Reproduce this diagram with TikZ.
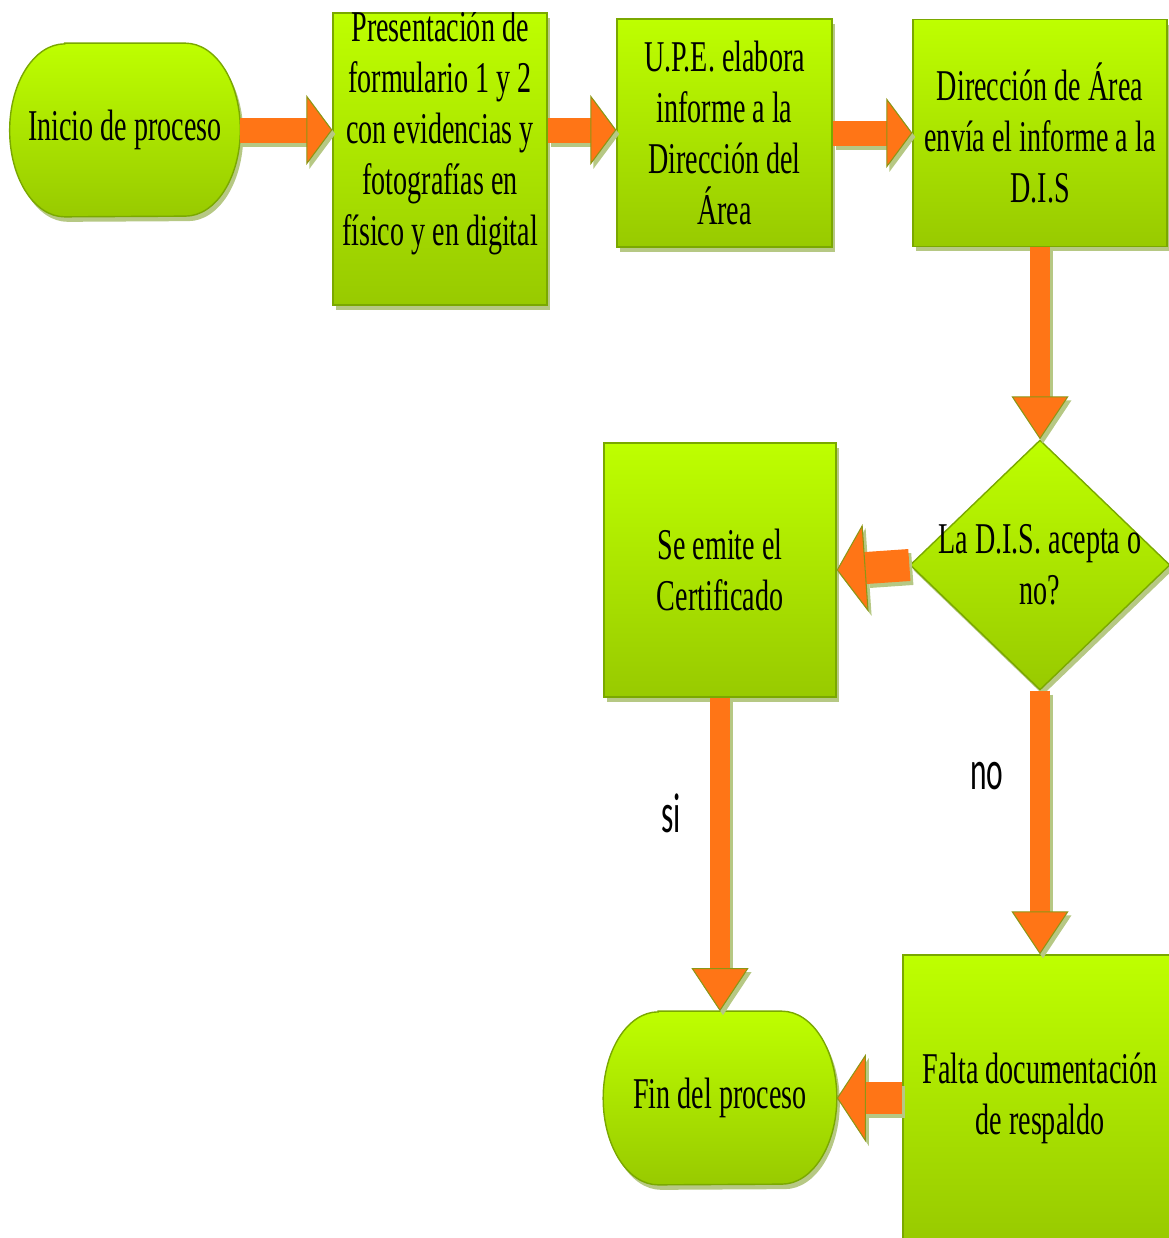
\documentclass[tikz,border=0pt]{standalone}
\usepackage{fontspec}
\setmainfont{Liberation Serif}[FakeStretch=0.64]
\newfontfamily\labelfont{Carlito}[FakeStretch=0.56]
\usetikzlibrary{arrows.meta,shapes.geometric,shadows,backgrounds}

\definecolor{gtop}{RGB}{190,255,0}
\definecolor{gbot}{RGB}{152,202,0}
\definecolor{gline}{RGB}{122,168,0}
\definecolor{shadowc}{RGB}{182,200,132}
\definecolor{arrowfill}{RGB}{255,117,22}
\definecolor{arrowline}{RGB}{140,150,20}
\newcommand\boxfont{\fontsize{25}{29}\selectfont}

\begin{document}
\begin{tikzpicture}[x=0.02cm,y=-0.02cm,
    every node/.append style={align=center},
    green/.style={top color=gtop, bottom color=gbot, draw=gline, line width=0.8pt,
      drop shadow={shadow xshift=0.06cm, shadow yshift=-0.1cm, fill=shadowc, opacity=1}},
    box/.style={green, rectangle, inner sep=2pt, font=\boxfont},
    term/.style={rectangle, inner sep=0pt, font=\boxfont},
    lbl/.style={font=\labelfont\fontsize{32}{38}\selectfont},
    flow/.style n args={3}{line width=#1, draw=arrowfill,
      -{Triangle[width=#2, length=#3, line width=0.6pt, fill=arrowfill, color=arrowline]},
      preaction={draw=shadowc, line width=#1, transform canvas={shift={(0.06cm,-0.08cm)}},
        -{Triangle[width=#2, length=#3, line width=0pt, fill=shadowc, color=shadowc]}}},
    hflow/.style={flow={0.5cm}{1.4cm}{0.52cm}},
    vflow/.style={flow={0.4cm}{1.14cm}{0.86cm}},
    lflow/.style={flow={0.64cm}{1.76cm}{0.58cm}}]
\useasboundingbox (0,0) rectangle (1169,1238);

% top row
\node[term, minimum width=4.6cm, minimum height=3.46cm] (ini) at (125,130) {Inicio de proceso};
\node[box, minimum width=4.28cm, minimum height=5.84cm] (pres) at (440,159) {};
\begin{scope}
  \clip (pres.north west) rectangle (pres.south east);
  \node[term] (pres text) at (440,133) {Presentación de\\formulario 1 y 2\\con evidencias y\\fotografías en\\físico y en digital};
\end{scope}
\node[box, minimum width=4.3cm, minimum height=4.56cm] (upe) at (724.5,133) {U.P.E. elabora\\informe a la\\Dirección del\\Área};
\node[box, minimum width=5.08cm, minimum height=4.54cm] (dir) at (1040,133) {Dirección de Área\\envía el informe a la\\D.I.S};

% decision
\node[box, diamond, inner sep=-5pt, minimum width=5.2cm, minimum height=5cm] (dec) at (1040,565) {La D.I.S. acepta o\\no?};
\node[box, minimum width=4.64cm, minimum height=5.08cm] (cert) at (720,570) {Se emite el\\Certificado};

% bottom row
\node[box, minimum width=5.48cm, minimum height=5.72cm] (falta) at (1040,1098) {Falta documentación\\de respaldo};
\node[term, minimum width=4.66cm, minimum height=3.46cm] (fin) at (720,1098) {Fin del proceso};

\begin{scope}[on background layer]
  \foreach \t in {ini,fin}
    \path[green] ([xshift=1.1cm]\t.north west) -- ([xshift=-1.1cm]\t.north east)
      arc[start angle=90, end angle=-90, x radius=1.1cm, y radius=1.73cm]
      -- ([xshift=1.1cm]\t.south west)
      arc[start angle=270, end angle=90, x radius=1.1cm, y radius=1.73cm] -- cycle;
\end{scope}

% connectors
\draw[hflow] (ini.east) -- (ini.east -| pres.west);
\draw[hflow] (ini.east -| pres.east) -- (ini.east -| upe.west);
\draw[hflow] (upe.east) -- (dir.west);
\draw[vflow] (dir.south) -- (dec.north);
\draw[lflow] (dec.west) -- (cert.east);
\draw[vflow] (cert.south) -- (fin.north);
\draw[vflow] (dec.south) -- (falta.north);
\draw[lflow] (falta.west) -- (fin.east);

\node[lbl, anchor=base] (si) at (671,832) {si};
\node[lbl, anchor=base] (no) at (987,789) {no};
\end{tikzpicture}
\end{document}
